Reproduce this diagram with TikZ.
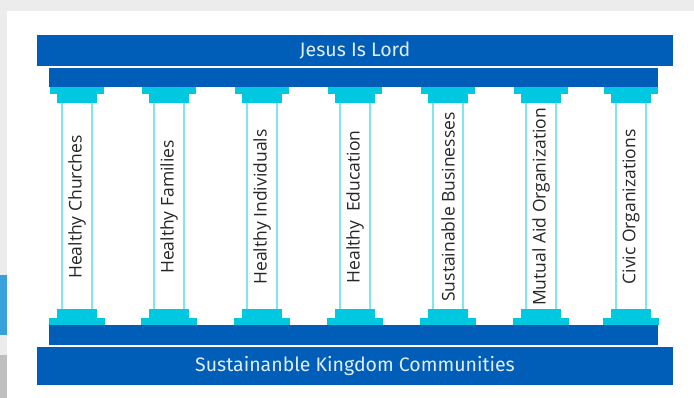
\documentclass[tikz,border=0pt]{standalone}
\usepackage{fontspec}
\setmainfont{Open Sans}
\newfontfamily\bannerfont{Fira Sans}
\usetikzlibrary{positioning}
\definecolor{royal}{HTML}{005EB8}
\definecolor{aqua}{HTML}{00C8E0}
\definecolor{shaft}{HTML}{80E6F0}
\definecolor{pagegray}{HTML}{ECECEC}
\definecolor{edgeblue}{HTML}{38A0DA}
\tikzset{
  banner/.style={fill=royal, text=white!88!royal, inner sep=0pt,
    minimum width=636pt, font=\bannerfont\fontsize{19.5}{22}\selectfont},
  pillarlabel/.style={rotate=90, text=black!85, inner sep=0pt,
    font=\fontsize{17.5}{20}\selectfont},
  shaftline/.style={draw=shaft, line width=1.5pt},
}

\begin{document}
\begin{tikzpicture}[x=1pt,y=-1pt]
\useasboundingbox (0,0) rectangle (694,398);
% page and screenshot edges
\fill[pagegray] (0,0) rectangle (694,398);
\fill[white] (7,11) rectangle (694,398);
\fill[edgeblue] (0,275) rectangle (7,335);
\fill[black!25] (0,355) rectangle (7,398);
% roof
\node[banner, minimum height=31pt] (lord) at (355,50.5) {Jesus Is Lord};
\fill[royal] (49,68) rectangle (658,87);
% floor
\fill[royal] (49,325) rectangle (658,345);
\node[banner, minimum height=38pt] (base) at (355,366) {Sustainanble Kingdom Communities};
% pillars
\foreach \c/\t [count=\i] in {77/Healthy Churches, 169/Healthy Families,
    262/Healthy Individuals, 355/Healthy~~Education,
    448/Sustainable Businesses, 541/Mutual Aid Organization,
    631/Civic Organizations}{
  \fill[aqua] (\c-27,87) rectangle (\c+27,94);
  \fill[aqua] (\c-20,94) rectangle (\c+20,103);
  \fill[aqua] (\c-20,309) rectangle (\c+20,318);
  \fill[aqua] (\c-28,318) rectangle (\c+28,325);
  \draw[shaftline] (\c-15,103) -- (\c-15,309);
  \draw[shaftline] (\c+15,103) -- (\c+15,309);
  \node[pillarlabel] (p\i) at (\c,207) {\t};
}
\end{tikzpicture}
\end{document}
